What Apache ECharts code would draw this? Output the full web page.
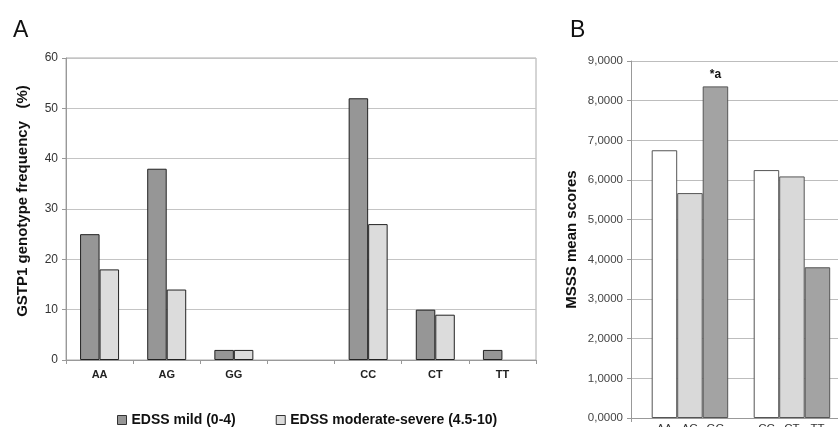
<!DOCTYPE html>
<html><head><meta charset="utf-8">
<script src="https://cdn.jsdelivr.net/npm/echarts@6/dist/echarts.min.js"></script>
<style>html,body{margin:0;padding:0;background:#fff}#c{width:838px;height:427px}</style>
</head><body><div id="c"></div>
<script>
const genotypesA = ['AA','AG','GG','','CC','CT','TT'];
const mildValues = [25, 38, 2, null, 52, 10, 2];
const moderateValues = [18, 14, 2, null, 27, 9, null];
const yTicksA = [0, 10, 20, 30, 40, 50, 60];

const genotypesB = ['AA','AG','GG','','CC','CT','TT'];
const msssValues = [6.75, 5.67, 8.36, null, 6.25, 6.09, 3.8];
const msssColors = ['#ffffff','#d9d9d9','#a3a3a3','#ffffff','#ffffff','#d9d9d9','#a3a3a3'];
const annotation = ['', '', '*a', '', '', '', ''];

const font = 'Liberation Sans, Arial, sans-serif';
const chart = echarts.init(document.getElementById('c'));
chart.setOption({
  animation: false,
  backgroundColor: '#fff',
  textStyle: {fontFamily: font},
  title: [
    {text: 'A', left: 8, top: 14, textStyle: {fontSize: 23, fontWeight: 'normal', color: '#111', fontFamily: font}},
    {text: 'B', left: 565, top: 14, textStyle: {fontSize: 23, fontWeight: 'normal', color: '#111', fontFamily: font}}
  ],
  legend: {
    left: 117, top: 413, padding: 0, itemWidth: 9, itemHeight: 9, itemGap: 40,
    textStyle: {fontSize: 14, fontWeight: 'bold', color: '#111', fontFamily: font},
    data: [
      {name: 'EDSS mild (0-4)', icon: 'rect', itemStyle: {color: '#969696', borderColor: '#333', borderWidth: 1}},
      {name: 'EDSS moderate-severe (4.5-10)', icon: 'rect', itemStyle: {color: '#dcdcdc', borderColor: '#333', borderWidth: 1}}
    ]
  },
  grid: [
    {left: 66, top: 58, width: 470, height: 302, show: true, borderColor: '#aaa', borderWidth: 1, outerBoundsMode: 'none'},
    {left: 631, top: 61, width: 230, height: 357, outerBoundsMode: 'none'},
    {left: 651.7, top: 61, width: 178.5, height: 357, outerBoundsMode: 'none'}
  ],
  xAxis: [
    {gridIndex: 0, type: 'category', data: genotypesA,
     axisLine: {lineStyle: {color: '#999'}}, axisTick: {show: true, length: 4, lineStyle: {color: '#999'}},
     axisLabel: {fontSize: 11, fontWeight: 'bold', color: '#222', margin: 9}},
    {gridIndex: 1, type: 'category', data: ['x'],
     axisLine: {lineStyle: {color: '#999'}}, axisTick: {show: true, length: 4, alignWithLabel: false, lineStyle: {color: '#999'}},
     axisLabel: {show: false}},
    {gridIndex: 2, type: 'category', data: genotypesB,
     axisLine: {show: false}, axisTick: {show: false},
     axisLabel: {fontSize: 11.5, color: '#333', margin: 5}}
  ],
  yAxis: [
    {gridIndex: 0, type: 'value', min: 0, max: 60, interval: 10,
     name: 'GSTP1 genotype frequency   (%)', nameLocation: 'middle', nameGap: 36,
     nameTextStyle: {fontSize: 15, fontWeight: 'bold', color: '#111', fontFamily: font, padding: [0, 0, 0, 16]},
     axisLine: {show: true, lineStyle: {color: '#999'}}, axisTick: {show: true, length: 4, lineStyle: {color: '#999'}},
     axisLabel: {fontSize: 12, color: '#333', margin: 8, formatter: v => yTicksA.includes(v) ? String(v) : ''},
     splitLine: {lineStyle: {color: '#c4c4c4'}}},
    {gridIndex: 1, type: 'value', min: 0, max: 9, interval: 1,
     name: 'MSSS mean scores', nameLocation: 'middle', nameGap: 52,
     nameTextStyle: {fontSize: 15, fontWeight: 'bold', color: '#111', fontFamily: font},
     axisLine: {show: true, lineStyle: {color: '#999'}}, axisTick: {show: true, length: 4, lineStyle: {color: '#999'}},
     axisLabel: {fontSize: 11.5, color: '#444', margin: 8, formatter: v => v.toFixed(4).replace('.', ',')},
     splitLine: {lineStyle: {color: '#bdbdbd'}}},
    {gridIndex: 2, type: 'value', min: 0, max: 9, interval: 1, show: false, splitLine: {show: false}}
  ],
  series: [
    {name: 'EDSS mild (0-4)', type: 'bar', xAxisIndex: 0, yAxisIndex: 0, data: mildValues,
     barWidth: 19.5, barGap: '0%', itemStyle: {color: '#969696', borderColor: '#222', borderWidth: 1}},
    {name: 'EDSS moderate-severe (4.5-10)', type: 'bar', xAxisIndex: 0, yAxisIndex: 0, data: moderateValues,
     barWidth: 19.5, barGap: '0%', itemStyle: {color: '#dcdcdc', borderColor: '#222', borderWidth: 1}},
    {name: 'MSSS', type: 'bar', xAxisIndex: 2, yAxisIndex: 2,
     data: msssValues.map((v, i) => ({value: v, itemStyle: {color: msssColors[i]}})),
     barWidth: '100%', itemStyle: {borderColor: '#555', borderWidth: 1},
     label: {show: true, position: 'top', distance: 6, fontSize: 12, fontWeight: 'bold', color: '#111',
             formatter: p => annotation[p.dataIndex]}}
  ]
});
</script></body></html>
